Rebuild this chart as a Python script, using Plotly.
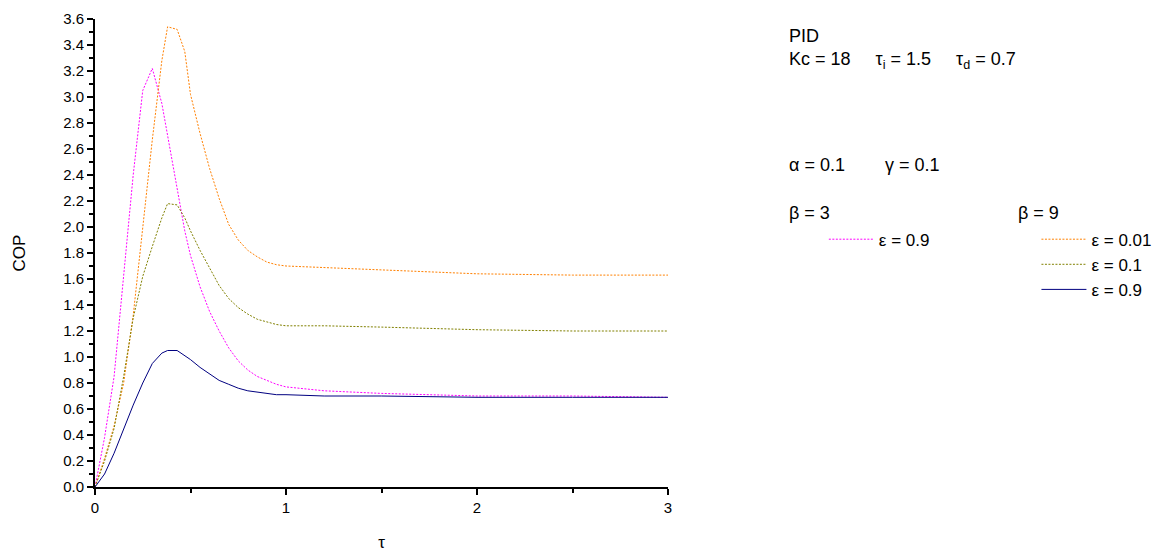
import plotly.graph_objects as go

# Dimensionless time grid
tau = [0, 0.05, 0.1, 0.15, 0.2, 0.25, 0.3, 0.35, 0.38, 0.43, 0.47, 0.5, 0.55,
       0.6, 0.65, 0.7, 0.75, 0.8, 0.85, 0.9, 0.95, 1.0, 1.2, 1.5, 2.0, 2.5, 3.0]

# COP responses
cop_b3_e09 = [0, 0.38, 0.85, 1.6, 2.4, 3.05, 3.22, 2.95, 2.7, 2.28, 1.97, 1.78, 1.54,
              1.35, 1.2, 1.07, 0.97, 0.9, 0.85, 0.82, 0.79, 0.77, 0.74, 0.72, 0.70, 0.70, 0.69]
cop_b9_e001 = [0, 0.22, 0.47, 0.8, 1.32, 2.0, 2.67, 3.28, 3.54, 3.52, 3.35, 3.02, 2.72,
               2.45, 2.22, 2.02, 1.9, 1.82, 1.77, 1.73, 1.71, 1.70, 1.69, 1.67, 1.64, 1.63, 1.63]
cop_b9_e01 = [0, 0.2, 0.45, 0.85, 1.3, 1.62, 1.85, 2.07, 2.18, 2.17, 2.07, 1.97, 1.82,
              1.68, 1.55, 1.45, 1.38, 1.33, 1.29, 1.27, 1.25, 1.24, 1.24, 1.23, 1.21, 1.20, 1.20]
cop_b9_e09 = [0, 0.1, 0.26, 0.45, 0.63, 0.8, 0.95, 1.03, 1.05, 1.05, 1.01, 0.98, 0.92,
              0.87, 0.82, 0.79, 0.76, 0.74, 0.73, 0.72, 0.71, 0.71, 0.70, 0.70, 0.69, 0.69, 0.69]

FONT = "Liberation Sans, Arial, sans-serif"
DOTS = "2px,1.5px"

fig = go.Figure()
fig.add_trace(go.Scatter(x=tau, y=cop_b3_e09, mode="lines", name="ε = 0.9",
                         line=dict(color="#FF00FF", width=1, dash=DOTS), legend="legend"))
fig.add_trace(go.Scatter(x=tau, y=cop_b9_e001, mode="lines", name="ε = 0.01",
                         line=dict(color="#FF8000", width=1, dash=DOTS), legend="legend2"))
fig.add_trace(go.Scatter(x=tau, y=cop_b9_e01, mode="lines", name="ε = 0.1",
                         line=dict(color="#808000", width=1, dash=DOTS), legend="legend2"))
fig.add_trace(go.Scatter(x=tau, y=cop_b9_e09, mode="lines", name="ε = 0.9",
                         line=dict(color="#000080", width=1), legend="legend2"))

axis_common = dict(showgrid=False, zeroline=False, showline=True, linecolor="black",
                   linewidth=2, ticks="outside", tickcolor="black", tickwidth=2,
                   ticklen=6, automargin=False,
                   tickfont=dict(family=FONT, size=15, color="black"))

fig.update_xaxes(range=[0, 3], dtick=1, tick0=0,
                 minor=dict(dtick=0.5, ticks="outside", ticklen=4, tickwidth=2, tickcolor="black"),
                 title=dict(text="τ", font=dict(family=FONT, size=17, color="black"), standoff=21),
                 **axis_common)
fig.update_yaxes(range=[0, 3.6], dtick=0.2, tick0=0, tickformat=".1f",
                 minor=dict(dtick=0.1, ticks="outside", ticklen=4, tickwidth=2, tickcolor="black"),
                 title=dict(text="COP", font=dict(family=FONT, size=17, color="black"), standoff=33),
                 **axis_common)

legend_common = dict(bgcolor="rgba(0,0,0,0)", borderwidth=0, xanchor="left", yanchor="top",
                     font=dict(family=FONT, size=17, color="black"), itemwidth=45,
                     tracegroupgap=0)

fig.update_layout(
    width=1167, height=553,
    margin=dict(l=95, r=499, t=19, b=66, autoexpand=False),
    plot_bgcolor="white", paper_bgcolor="white",
    legend=dict(x=1.272, y=0.567, **legend_common),
    legend2=dict(x=1.643, y=0.567, **legend_common),
    showlegend=True,
)

ann_font = dict(family=FONT, size=18, color="black")
texts = [
    ("PID", 787, 36),
    ("Kc = 18     τ<sub>i</sub> = 1.5     τ<sub>d</sub> = 0.7", 787, 60),
    ("α = 0.1        γ = 0.1", 787, 165),
    ("β = 3", 787, 213),
    ("β = 9", 1016, 213),
]
for txt, px, py in texts:
    fig.add_annotation(text=txt, xref="paper", yref="paper",
                       x=(px - 95) / 573, y=(487 - py) / 468,
                       xanchor="left", yanchor="middle", showarrow=False, font=ann_font)

fig.write_html("out.html")
